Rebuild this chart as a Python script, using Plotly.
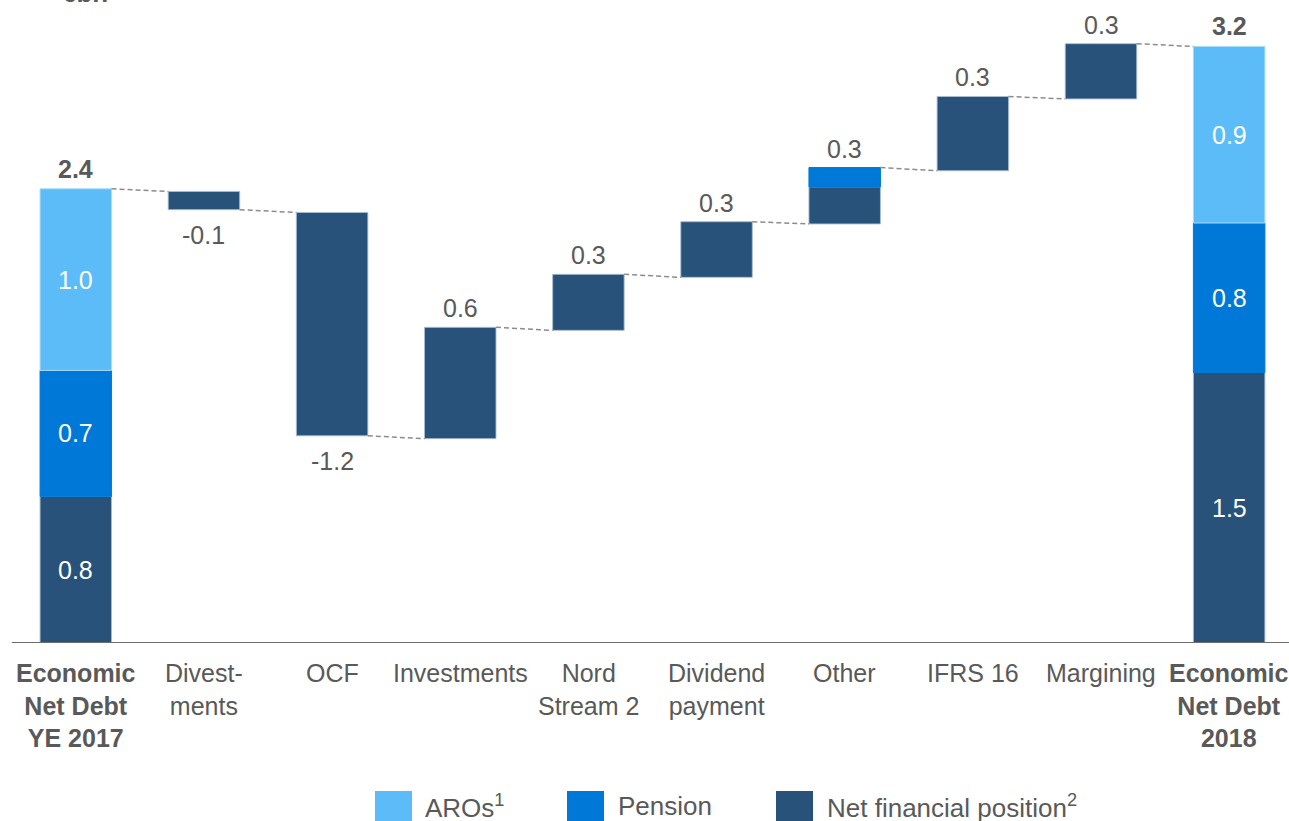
import plotly.graph_objects as go

# ---------------- data (EUR bn) ----------------
categories = [
    "<b>Economic<br>Net Debt<br>YE 2017</b>", "Divest-<br>ments", "OCF", "Investments",
    "Nord<br>Stream 2", "Dividend<br>payment", "Other", "IFRS 16", "Margining",
    "<b>Economic<br>Net Debt<br>2018</b>",
]

# total bars (first and last): stacked components
total_idx = [0, 9]
total_net = [0.780, 1.439]
total_pension = [0.670, 0.795]
total_aros = [0.966, 0.939]
total_net_labels = ["0.8", "1.5"]
total_pension_labels = ["0.7", "0.8"]
total_aros_labels = ["1.0", "0.9"]
total_sum_labels = ["2.4", "3.2"]

# bridge steps
step_idx = [1, 2, 3, 4, 5, 6, 7, 8]
step_base = [2.402, 2.290, 1.087, 1.663, 1.945, 2.229, 2.512, 2.894]
step_net = [-0.097, -1.188, 0.592, 0.298, 0.296, 0.197, 0.395, 0.294]
step_pension = [0, 0, 0, 0, 0, 0.103, 0, 0]
step_labels = ["-0.1", "-1.2", "0.6", "0.3", "0.3", "0.3", "0.3", "0.3"]

legend_names = ["AROs<sup>1</sup>", "Pension", "Net financial position<sup>2</sup>"]

# ---------------- style ----------------
C_AROS = "#5BBCF7"
C_PENSION = "#0078D7"
C_NET = "#28527A"
GREY = "#595959"
FONT = "Liberation Sans, Arial, sans-serif"
W, H = 1289, 821
MB = 178
BAR_W = 0.558
OUTLINE = dict(color="rgba(170,190,210,0.9)", width=1)

fig = go.Figure()

# net financial position
net_x = [total_idx[0]] + step_idx + [total_idx[1]]
net_base = [0] + step_base + [0]
net_y = [total_net[0]] + step_net + [total_net[1]]
fig.add_trace(go.Bar(x=net_x, y=net_y, base=net_base, width=BAR_W,
                     marker=dict(color=C_NET, line=OUTLINE), name="Net"))

# pension
pen_x, pen_base, pen_y = [], [], []
for k, i in enumerate(total_idx):
    pen_x.append(i); pen_base.append(total_net[k]); pen_y.append(total_pension[k])
for k, i in enumerate(step_idx):
    if step_pension[k]:
        pen_x.append(i); pen_base.append(step_base[k] + step_net[k]); pen_y.append(step_pension[k])
fig.add_trace(go.Bar(x=pen_x, y=pen_y, base=pen_base, width=BAR_W,
                     marker=dict(color=C_PENSION, line=dict(color=C_PENSION, width=1)), name="Pension"))

# AROs
aro_base = [total_net[k] + total_pension[k] for k in range(2)]
fig.add_trace(go.Bar(x=total_idx, y=total_aros, base=aro_base, width=BAR_W,
                     marker=dict(color=C_AROS, line=dict(color="#A8DCFA", width=1)), name="AROs"))

# connectors
start_lvl = {}
end_lvl = {}
for k, i in enumerate(total_idx):
    tot = total_net[k] + total_pension[k] + total_aros[k]
    start_lvl[i] = tot
    end_lvl[i] = tot
for k, i in enumerate(step_idx):
    start_lvl[i] = step_base[k]
    end_lvl[i] = step_base[k] + step_net[k] + step_pension[k]
cx, cy = [], []
for i in range(len(categories) - 1):
    cx += [i + BAR_W / 2, i + 1 - BAR_W / 2, None]
    cy += [end_lvl[i], start_lvl[i + 1], None]
fig.add_trace(go.Scatter(x=cx, y=cy, mode="lines",
                         line=dict(color="#8C8C8C", width=1.5, dash="5px,3px"),
                         hoverinfo="skip"))

ann = []
# inside labels for totals
for k, i in enumerate(total_idx):
    n, p, a = total_net[k], total_pension[k], total_aros[k]
    for y, t in [(n / 2, total_net_labels[k]), (n + p / 2, total_pension_labels[k]),
                 (n + p + a / 2, total_aros_labels[k])]:
        ann.append(dict(x=i, y=y, text=t, showarrow=False,
                        font=dict(color="white", size=25, family=FONT)))
    ann.append(dict(x=i, y=n + p + a, text="<b>" + total_sum_labels[k] + "</b>", showarrow=False,
                    yanchor="bottom", yshift=4, font=dict(color=GREY, size=25, family=FONT)))
# step labels
for k, i in enumerate(step_idx):
    ch = step_net[k] + step_pension[k]
    if ch >= 0:
        ann.append(dict(x=i, y=step_base[k] + ch, text=step_labels[k], showarrow=False,
                        yanchor="bottom", yshift=3, font=dict(color=GREY, size=25, family=FONT)))
    else:
        ann.append(dict(x=i, y=step_base[k] + ch, text=step_labels[k], showarrow=False,
                        yanchor="top", yshift=-9, font=dict(color=GREY, size=25, family=FONT)))
# category labels
for i, c in enumerate(categories):
    ann.append(dict(x=i, y=0, text=c, showarrow=False, yanchor="top", yshift=-14,
                    font=dict(color=GREY, size=25, family=FONT)))

# unit label (partly cut at top)
ann.append(dict(x=60 / W, y=1, xref="paper", yref="paper", text="<b>€bn</b>", showarrow=False,
                yanchor="bottom", yshift=-10, font=dict(color=GREY, size=26, family=FONT)))

# custom legend
PH = H - MB
def py(p):
    return (PH - p) / PH
def px(p):
    return p / W
shapes = []
leg_sq = [(375, C_AROS), (567, C_PENSION), (776, C_NET)]
leg_tx = [423, 616, 825]
for (x0, col), tx, name in zip(leg_sq, leg_tx, legend_names):
    shapes.append(dict(type="rect", xref="paper", yref="paper", x0=px(x0), x1=px(x0 + 37),
                       y0=py(791), y1=py(830), fillcolor=col, line=dict(width=0)))
    ann.append(dict(x=px(tx), y=py(806), xref="paper", yref="paper", text=name, showarrow=False,
                    xanchor="left", yanchor="middle", font=dict(color=GREY, size=26, family=FONT)))

# axis baseline
shapes.append(dict(type="line", xref="x", yref="y", x0=-0.5, x1=9.6, y0=0, y1=0,
                   line=dict(color="#6E6E6E", width=2)))

fig.update_layout(
    width=W, height=H,
    margin=dict(l=0, r=0, t=0, b=MB),
    plot_bgcolor="white", paper_bgcolor="white",
    barmode="overlay", showlegend=False,
    annotations=ann, shapes=shapes,
    xaxis=dict(range=[-75.8 / 128.15, (W - 75.8) / 128.15], visible=False, fixedrange=True),
    yaxis=dict(range=[0, PH / 188.0], visible=False, fixedrange=True),
    font=dict(family=FONT, color=GREY),
)

fig.write_html("out.html", config={"displayModeBar": False},
               post_script="document.body.style.margin='0';document.body.style.overflow='hidden';")
